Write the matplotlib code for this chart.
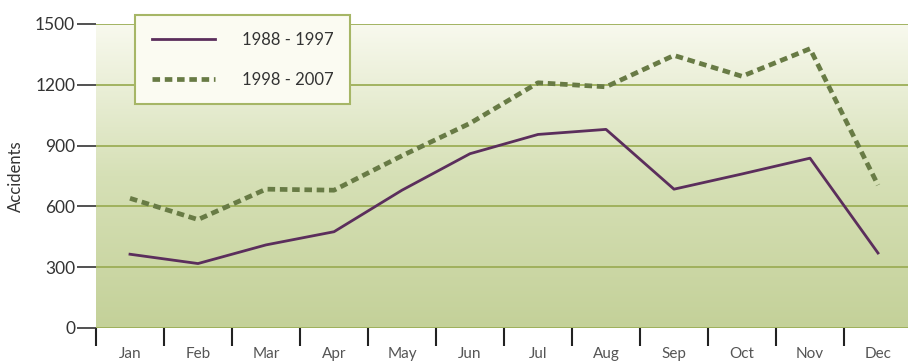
import matplotlib
matplotlib.use("Agg")
import matplotlib.pyplot as plt
import numpy as np
from matplotlib.colors import LinearSegmentedColormap

months = ['Jan', 'Feb', 'Mar', 'Apr', 'May', 'Jun',
          'Jul', 'Aug', 'Sep', 'Oct', 'Nov', 'Dec']
early = [364, 318, 410, 475, 680, 860, 955, 980, 685, 760, 838, 370]
late = [640, 535, 685, 680, 850, 1010, 1210, 1190, 1345, 1242, 1378, 705]
yticks = [0, 300, 600, 900, 1200, 1500]

plt.rcParams['font.family'] = ['Lato', 'DejaVu Sans']

fig = plt.figure(figsize=(9.08, 3.64), dpi=100)
ax = fig.add_axes([96 / 908, 36 / 364, 816 / 908, 304 / 364])

# soft vertical gradient behind the plot
cmap = LinearSegmentedColormap.from_list(
    'bg', ['#c4d199', '#d6e0b6', '#f8f9ee'])
grad = np.linspace(0, 1, 256).reshape(-1, 1)
ax.imshow(grad, cmap=cmap, origin='lower', aspect='auto',
          extent=(0, 12, 0, 1500), zorder=0)

x = np.arange(len(months)) + 0.5
ax.plot(x, early, color='#5b2e5c', lw=2.0, zorder=3, label='1988 - 1997')
ax.plot(x, late, color='#687b45', lw=3.4, ls=(0, (1.6, 1.0)),
        zorder=3, label='1998 - 2007')

for v in yticks:
    ax.axhline(v, color='#9cae57', lw=1.3, zorder=1)

ax.set_xlim(0, 12)
ax.set_ylim(0, 1500)
ax.set_yticks(yticks)
ax.set_xticks(np.arange(0, 12))
ax.set_xticklabels([])
ax.set_xticks(x, minor=True)
ax.set_xticklabels(months, minor=True)
ax.tick_params(axis='x', which='minor', length=0, pad=14,
               labelsize=11, labelcolor='#555555')
ax.tick_params(axis='x', which='major', length=13, width=1.5,
               color='#222222', direction='out')
ax.tick_params(axis='y', length=14, width=1.2, color='#333333',
               labelsize=12.5, labelcolor='#333333', pad=1)
for s in ax.spines.values():
    s.set_visible(False)

ax.set_ylabel('Accidents', fontsize=12, color='#333333', labelpad=8)

leg = ax.legend(loc='upper left', bbox_to_anchor=(39 / 816, 1.03),
                frameon=True, fancybox=False, fontsize=12,
                handlelength=3.8, handletextpad=1.6, borderpad=1.0,
                labelspacing=1.45, borderaxespad=0)
leg.get_frame().set_edgecolor('#a6b666')
leg.get_frame().set_linewidth(1.5)
leg.get_frame().set_facecolor('#fbfbf2')
leg.get_frame().set_alpha(1)
for t in leg.get_texts():
    t.set_color('#333333')

fig.savefig('out.png', dpi=100)
